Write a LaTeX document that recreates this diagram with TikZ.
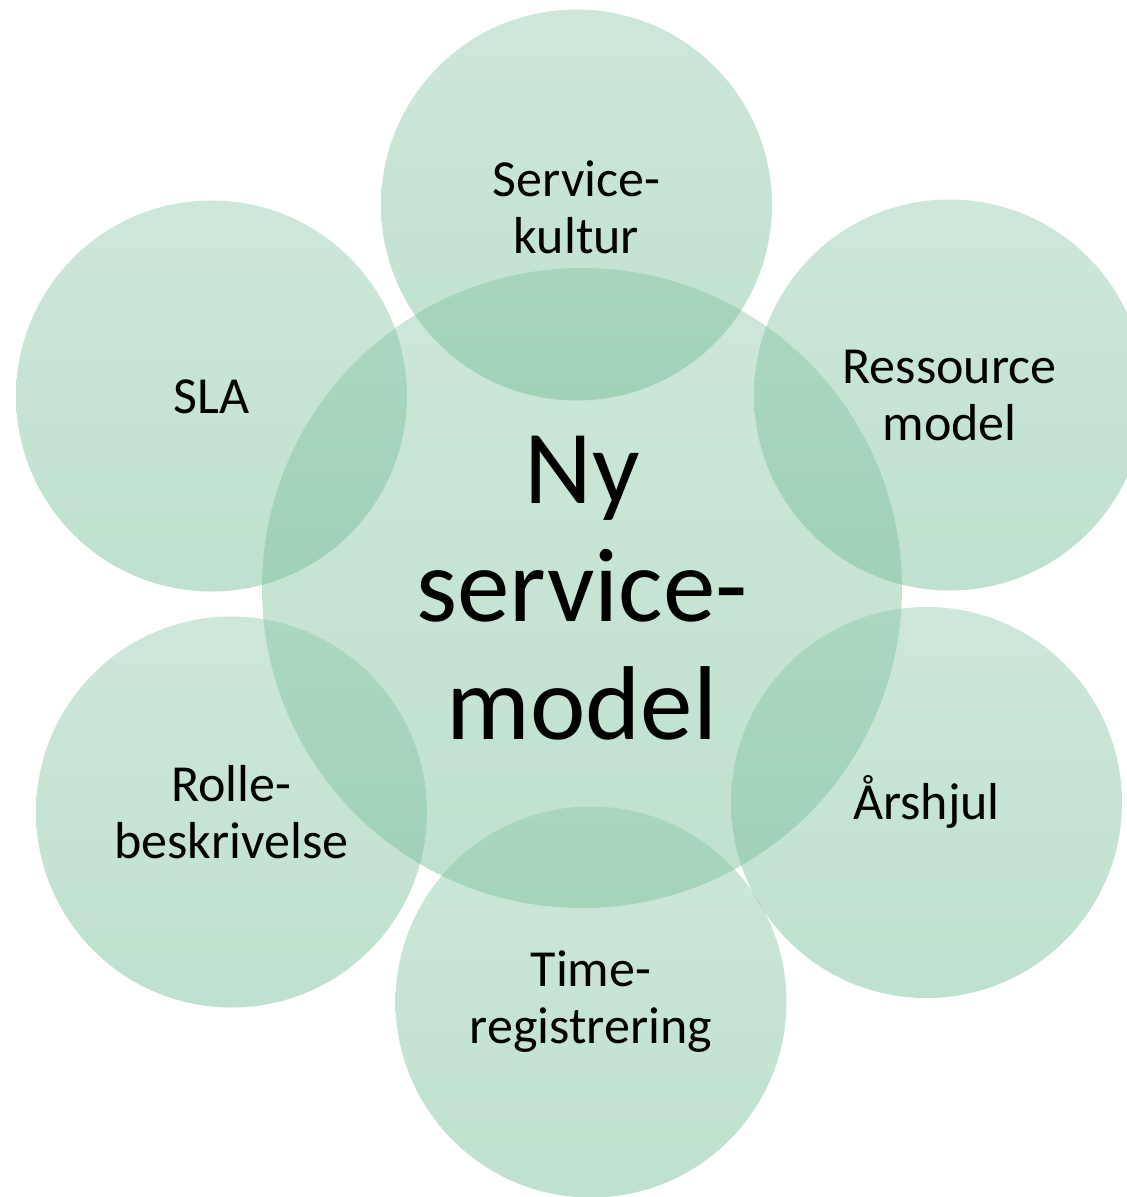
\documentclass[tikz,border=0pt]{standalone}
\usepackage{fontspec}
\setmainfont{Carlito}
\definecolor{gtop}{RGB}{139,199,169}
\definecolor{gbot}{RGB}{108,185,143}
\tikzset{
  bubble/.style={circle, inner sep=0pt, top color=gtop, bottom color=gbot, fill opacity=0.43, draw=none},
  smalltext/.style={align=center, text=black, font=\fontsize{52}{57}\selectfont},
  bigtext/.style={align=center, text=black, font=\fontsize{105}{118}\selectfont}
}
\begin{document}
\begin{tikzpicture}[x=1pt,y=-1pt]
\useasboundingbox (0,0) rectangle (1127,1197);
\node[bubble, minimum size=640pt] (center) at (582,588) {};
\node[bubble, minimum size=391pt] (top) at (576.5,205) {};
\node[bubble, minimum size=391pt] (sla) at (211.5,396) {};
\node[bubble, minimum size=391pt] (res) at (949.5,395) {};
\node[bubble, minimum size=391pt] (aars) at (926.5,802.5) {};
\node[bubble, minimum size=391pt] (time) at (591,1002) {};
\node[bubble, minimum size=391pt] (rolle) at (231.5,812) {};
\node[bigtext] (centerlbl) at (582,588) {Ny\\service-\\model};
\node[smalltext] (toplbl) at (576.5,207) {Service-\\kultur};
\node[smalltext] (slalbl) at (211.5,397) {SLA};
\node[smalltext] (reslbl) at (949.5,395) {Ressource\\model};
\node[smalltext] (aarslbl) at (926.5,802) {Årshjul};
\node[smalltext] (timelbl) at (591,1002) {Time-\\registrering};
\node[smalltext] (rollelbl) at (231.5,812) {Rolle-\\beskrivelse};
\end{tikzpicture}
\end{document}
